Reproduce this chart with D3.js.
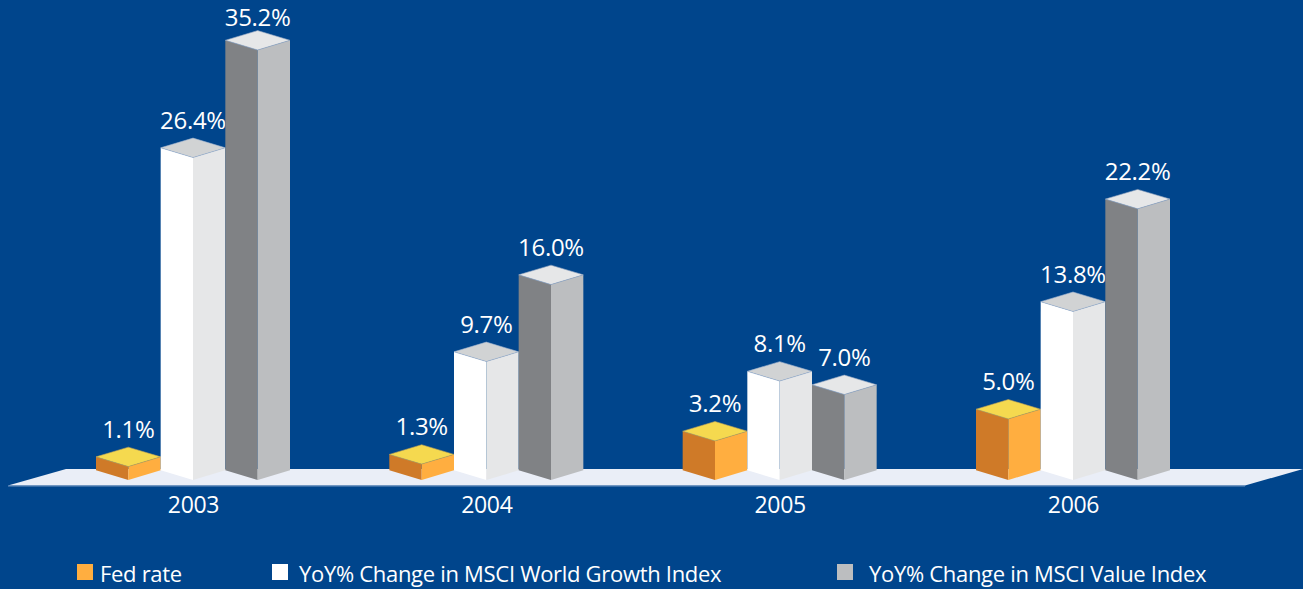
<!DOCTYPE html>
<html>
<head>
<meta charset="utf-8">
<script src="https://cdn.jsdelivr.net/npm/d3@7/dist/d3.min.js"></script>
<style>
  html, body { margin: 0; padding: 0; background: #00458c; }
  svg { display: block; }
  text { font-family: "Open Sans", "Noto Sans", sans-serif; fill: #fff; }
</style>
</head>
<body>
<svg id="chart" width="1303" height="589"></svg>
<script>
// Annual figures, in percent
const years = ["2003", "2004", "2005", "2006"];
const seriesNames = ["Fed rate", "YoY% Change in MSCI World Growth Index", "YoY% Change in MSCI Value Index"];
const fedRate = [1.1, 1.3, 3.2, 5.0];
const growthIndex = [26.4, 9.7, 8.1, 13.8];
const valueIndex = [35.2, 16.0, 7.0, 22.2];
const seriesValues = [fedRate, growthIndex, valueIndex];

// Face shades of each prism: left wall, right wall, lid
const faceColors = [
  { left: "#cf7a28", right: "#ffae40", top: "#f5d94f", edge: "#b9a05a" },
  { left: "#ffffff", right: "#e6e7e8", top: "#d1d3d4", edge: "#9fb4d0" },
  { left: "#808285", right: "#bcbec0", top: "#e6e7e8", edge: "#8ea3c0" }
];

const svg = d3.select("#chart");
const baseY = 480;          // front corner of every prism's foot
const halfDepth = 9.7;      // vertical drop from side corner to front corner

const y = d3.scaleLinear().domain([0, 35.2]).range([baseY, 50]);
const xYear = d3.scalePoint().domain(years).range([193, 1073]);
const xSeries = d3.scaleBand().domain(d3.range(3)).range([-97, 97]);
const halfW = xSeries.bandwidth() / 2;

// Floor slab
svg.append("path")
  .attr("d", d3.line()([[66, 469], [1303, 469], [1245, 485.5], [8, 485.5]]) + "Z")
  .attr("fill", "#eaeef7");
svg.append("line")
  .attr("x1", 8).attr("x2", 1245).attr("y1", 486).attr("y2", 486)
  .attr("stroke", "#6f93c0").attr("stroke-width", 1);

// Prisms, with their value labels
years.forEach((year, yi) => {
  const g = svg.append("g");
  seriesValues.forEach((values, si) => {
    const v = values[yi];
    const cx = xYear(year) + xSeries(si) + halfW;
    const top = y(v);
    const c = faceColors[si];
    const line = d3.line();
    const bar = g.append("g");
    bar.append("path")
      .attr("d", line([[cx - halfW, top - halfDepth], [cx, top], [cx, baseY], [cx - halfW, baseY - halfDepth]]) + "Z")
      .attr("fill", c.left);
    bar.append("path")
      .attr("d", line([[cx, top], [cx + halfW, top - halfDepth], [cx + halfW, baseY - halfDepth], [cx, baseY]]) + "Z")
      .attr("fill", c.right);
    bar.append("path")
      .attr("d", line([[cx - halfW, top - halfDepth], [cx, top - 2 * halfDepth], [cx + halfW, top - halfDepth], [cx, top]]) + "Z")
      .attr("fill", c.top)
      .attr("stroke", c.edge)
      .attr("stroke-width", 0.6);
    // Keep the tallest label clear of the page's top edge
    bar.append("text")
      .attr("x", cx)
      .attr("y", Math.max(top - 2 * halfDepth - 9.5, 26))
      .attr("text-anchor", "middle")
      .attr("font-size", 24)
      .attr("letter-spacing", "-0.3")
      .text(v.toFixed(1) + "%");
  });
});

// Year labels along the floor
const axis = svg.append("g")
  .attr("transform", "translate(0,488)")
  .call(d3.axisBottom(xYear).tickSize(0).tickPadding(4));
axis.select(".domain").remove();
axis.selectAll("text")
  .attr("font-size", 23)
  .attr("letter-spacing", "-0.3")
  .attr("dy", "0.9em")
  .style("font-family", '"Open Sans", "Noto Sans", sans-serif');

// Legend row
const legendX = d3.scaleOrdinal().domain(seriesNames).range([77, 272, 837]);
const legendGap = [23, 27, 32];
const legendColors = [faceColors[0].right, faceColors[1].left, faceColors[2].right];
seriesNames.forEach((name, i) => {
  svg.append("rect")
    .attr("x", legendX(name)).attr("y", 564)
    .attr("width", 16).attr("height", 16)
    .attr("fill", legendColors[i]);
  svg.append("text")
    .attr("x", legendX(name) + legendGap[i]).attr("y", 582)
    .attr("font-size", 22)
    .attr("letter-spacing", "-0.3")
    .text(name);
});
</script>
</body>
</html>
